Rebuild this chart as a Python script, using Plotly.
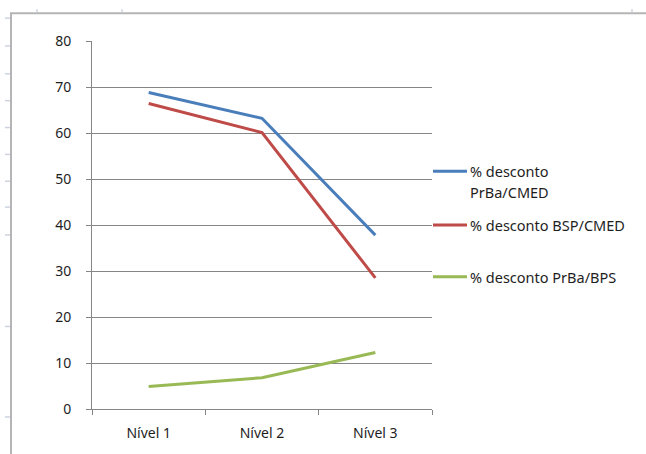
import plotly.graph_objects as go

# Categories and series values
niveis = ["Nível 1", "Nível 2", "Nível 3"]
serie_nomes = ["% desconto PrBa/CMED", "% desconto BSP/CMED", "% desconto PrBa/BPS"]
prba_cmed = [68.8, 63.2, 37.8]
bsp_cmed = [66.4, 60.1, 28.5]
prba_bps = [4.9, 6.8, 12.3]
y_ticks = [0, 10, 20, 30, 40, 50, 60, 70, 80]

cores = ["#4a7ebb", "#be4b48", "#98b954"]
valores = [prba_cmed, bsp_cmed, prba_bps]

W, H = 646, 454
L, R, T, B = 92, 214, 41, 43
PW, PH = W - L - R, H - T - B
FONT = "Noto Sans"
TXT = "#1e1e1e"

fig = go.Figure()
for nome, vals, cor in zip(serie_nomes, valores, cores):
    fig.add_trace(go.Scatter(x=niveis, y=vals, mode="lines", name=nome,
                             line=dict(color=cor, width=3), showlegend=False))

# pixel position -> paper coordinates (paper spans the plotting area)
def px(x):
    return (x - L) / PW

def py(y):
    return (H - B - y) / PH

shapes = []
# outer frame (left and top edges)
shapes.append(dict(type="line", xref="paper", yref="paper", x0=px(11), x1=px(11),
                   y0=py(13), y1=py(460), line=dict(color="#b5b5b5", width=2)))
shapes.append(dict(type="line", xref="paper", yref="paper", x0=px(10), x1=px(650),
                   y0=py(13), y1=py(13), line=dict(color="#b5b5b5", width=2)))
# small sheet markers along the frame
for yy in [18, 46, 74, 101, 128, 155, 182, 208, 236, 328, 419]:
    shapes.append(dict(type="line", xref="paper", yref="paper", x0=px(5), x1=px(10),
                       y0=py(yy), y1=py(yy), line=dict(color="#cdd4e0", width=1.5)))
for xx in [37, 122, 632]:
    shapes.append(dict(type="line", xref="paper", yref="paper", x0=px(xx), x1=px(xx),
                       y0=py(9), y1=py(12), line=dict(color="#cdd4e0", width=1.5)))

# legend entries: sample line plus label (first label wraps onto two lines)
leg_y = [172, 226, 278]
leg_lines = [["% desconto", "PrBa/CMED"], [serie_nomes[1]], [serie_nomes[2]]]
annotations = []
for yy, cor, linhas in zip(leg_y, cores, leg_lines):
    shapes.append(dict(type="line", xref="paper", yref="paper", x0=px(433), x1=px(467),
                       y0=py(yy), y1=py(yy), line=dict(color=cor, width=3)))
    for k, txt in enumerate(linhas):
        annotations.append(dict(xref="paper", yref="paper", x=px(468),
                                y=py(yy + 21 * k), xanchor="left", yanchor="middle",
                                text=txt, showarrow=False, align="left",
                                font=dict(family=FONT, size=14.5, color=TXT)))

fig.update_layout(
    width=W, height=H,
    margin=dict(l=L, r=R, t=T, b=B, pad=0),
    paper_bgcolor="white", plot_bgcolor="white",
    shapes=shapes, annotations=annotations,
    font=dict(family=FONT, size=14, color=TXT),
)
fig.update_xaxes(type="category", range=[-0.5, 2.5], tickson="boundaries",
                 ticks="outside", ticklen=5,
                 tickcolor="#868686", showline=True, linecolor="#868686", linewidth=1,
                 showgrid=False, tickfont=dict(family=FONT, size=14, color=TXT),
                 ticklabelstandoff=11)
fig.update_yaxes(range=[0, 80], tickvals=y_ticks, ticks="outside", ticklen=5,
                 tickcolor="#868686", showline=True, linecolor="#868686", linewidth=1,
                 showgrid=True, gridcolor="#868686", gridwidth=1, zeroline=False,
                 tickfont=dict(family=FONT, size=14, color=TXT),
                 ticklabelstandoff=12)

fig.write_html("out.html")
